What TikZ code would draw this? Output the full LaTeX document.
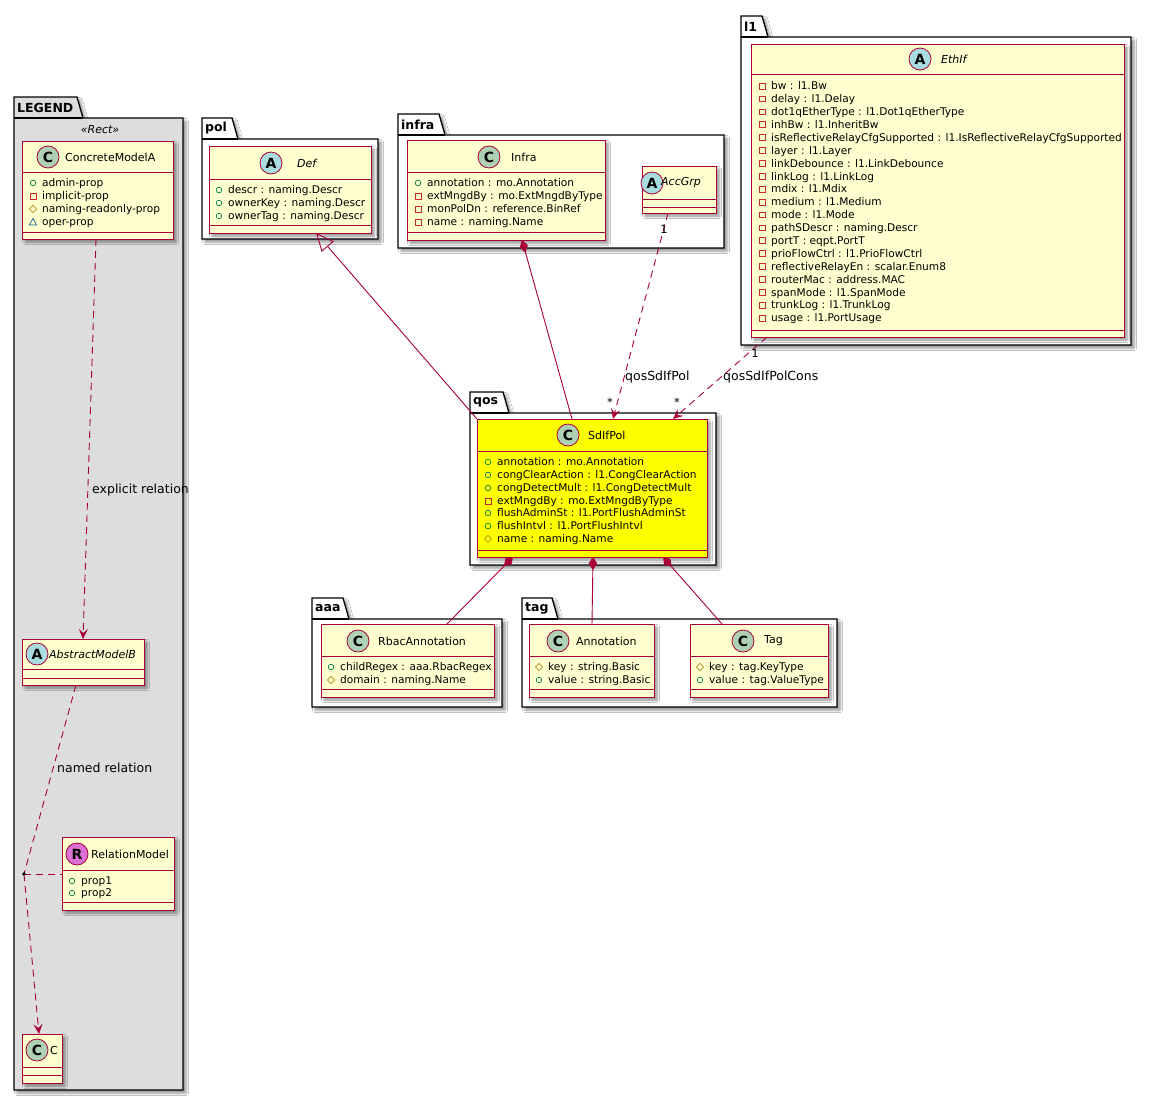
\documentclass[tikz,border=0pt]{standalone}
\usepackage{fontspec}
\setmainfont{DejaVu Sans}
\usetikzlibrary{arrows.meta,fit,shadows.blur,calc}

\definecolor{clsborder}{HTML}{A80036}
\definecolor{clsfill}{HTML}{FEFECE}
\definecolor{hilite}{HTML}{FFFF00}
\definecolor{legendbg}{HTML}{DDDDDD}
\definecolor{circC}{HTML}{ADD1B2}
\definecolor{circA}{HTML}{A9DCDF}
\definecolor{circR}{HTML}{DA70D6}
\definecolor{pubc}{HTML}{038048}
\definecolor{privc}{HTML}{C82930}
\definecolor{protc}{HTML}{B38D22}
\definecolor{pkgc}{HTML}{1963A0}

\tikzset{
 shadowed/.style={blur shadow={shadow xshift=3pt, shadow yshift=-3pt, shadow blur radius=2.5pt, shadow opacity=45}},
 classbox/.style={draw=clsborder, line width=1pt, inner sep=0pt, outer sep=0pt, shadowed},
 cline/.style={draw=clsborder, line width=1pt},
 hcircle/.style={circle, draw=clsborder, line width=0.8pt, minimum size=22pt, inner sep=0pt, font=\fontsize{14}{14}\selectfont\bfseries},
 cname/.style={anchor=west, inner sep=0pt, font=\fontsize{11}{13}\selectfont},
 aname/.style={anchor=west, inner sep=0pt, font=\fontsize{11}{13}\selectfont\itshape},
 attrtext/.style={anchor=base west, inner sep=0pt, font=\fontsize{10.6}{12}\selectfont},
 pkgshape/.style={draw=black, line width=1.3pt, shadowed},
 pkgname/.style={anchor=west, inner sep=0pt, font=\fontsize{12.5}{14}\selectfont\bfseries},
 lbl/.style={inner sep=0pt, font=\fontsize{12.5}{14}\selectfont},
 mult/.style={inner sep=0pt, font=\fontsize{11.5}{13}\selectfont},
 relline/.style={draw=clsborder, line width=0.9pt},
 dashline/.style={relline, dash pattern=on 7pt off 5pt},
 dep/.style={dashline, -{Stealth[length=10pt,width=9pt,inset=4pt]}},
 comp/.style={relline, {Diamond[length=13pt,width=8.5pt]}-},
 inh/.style={relline, -{Triangle[open,length=18pt,width=16pt]}},
}

\newcounter{attrc}
\newcommand\visP[2]{\draw[draw=pubc, line width=0.7pt] (#1,#2) circle (2.8);}
\newcommand\visM[2]{\draw[draw=privc, line width=0.7pt] (#1-2.9,#2-2.9) rectangle (#1+2.9,#2+2.9);}
\newcommand\visH[2]{\draw[draw=protc, line width=0.7pt] (#1,#2-3.7) -- (#1+3.7,#2) -- (#1,#2+3.7) -- (#1-3.7,#2) -- cycle;}
\newcommand\visT[2]{\draw[draw=pkgc, line width=0.7pt] (#1-3.7,#2+3) -- (#1+3.7,#2+3) -- (#1,#2-3.5) -- cycle;}
\newcommand\umlattr[4]{\stepcounter{attrc}\csname vis#3\endcsname{#1}{#2}\node[attrtext] (attr\arabic{attrc}) at (#1+9,#2+3.8) {#4};}

\newcommand\umlpkg[9]{%
  \path[pkgshape, fill=#9] (#2,#3) -- (#4-6,#3) -- (#4,#5) -- (#6,#5) -- (#6,#7) -- (#2,#7) -- cycle;
  \draw[black, line width=1.3pt] (#2,#5) -- (#4,#5);
  \node[pkgname] (#1) at (#2+3,{(#3+#5)/2}) {#8};
}
\newcommand\umlclass[8]{%
  \node[classbox, fill=#8, fit={(#2,#3) (#4,#5)}] (#1) {};
  \draw[cline] (#2,#6) -- (#4,#6);
  \draw[cline] (#2,#7) -- (#4,#7);
}

\begin{document}
\begin{tikzpicture}[x=1pt,y=-1pt]
\fill[white] (0,0) rectangle (1153,1101);
\useasboundingbox (0,0) rectangle (1153,1101);

% ---------- packages ----------
\umlpkg{pkglegend}{14}{97}{83}{118}{183}{1090}{LEGEND}{legendbg}
\umlpkg{pkgpol}{202}{118}{238}{139}{378}{239}{pol}{white}
\umlpkg{pkginfra}{398}{114}{445}{135}{724}{248}{infra}{white}
\umlpkg{pkgl1}{741}{16}{768}{37}{1131}{345}{l1}{white}
\umlpkg{pkgqos}{470}{392}{509}{413}{716}{565}{qos}{white}
\umlpkg{pkgaaa}{312}{598}{349}{619}{502}{707}{aaa}{white}
\umlpkg{pkgtag}{522}{598}{558}{619}{837}{707}{tag}{white}

\node[inner sep=0pt, font=\fontsize{11}{13}\selectfont\itshape] (stereo) at (100,130) {«Rect»};

% ---------- LEGEND classes ----------
\umlclass{cma}{22}{141}{173}{239}{172}{232}{clsfill}
\node[hcircle, fill=circC] (cmaicon) at (48,157) {C};
\node[cname] (cmaname) at (65,157) {ConcreteModelA};
\umlattr{33}{183}{P}{admin-prop}
\umlattr{33}{196}{M}{implicit-prop}
\umlattr{33}{209}{H}{naming-readonly-prop}
\umlattr{33}{222}{T}{oper-prop}

\umlclass{amb}{22}{639}{144}{685}{669}{678}{clsfill}
\node[hcircle, fill=circA] (ambicon) at (37,654) {A};
\node[aname] (ambname) at (49,654) {AbstractModelB};

\umlclass{relm}{62}{837}{174}{910}{870}{902}{clsfill}
\node[hcircle, fill=circR] (relmicon) at (77,854) {R};
\node[cname] (relmname) at (91,854) {RelationModel};
\umlattr{72}{881}{P}{prop1}
\umlattr{72}{893}{P}{prop2}

\umlclass{cc}{22}{1034}{62}{1083}{1067}{1075}{clsfill}
\node[hcircle, fill=circC] (ccicon) at (37,1050) {C};
\node[cname] (ccname) at (50,1050) {C};

% ---------- pol ----------
\umlclass{def}{209}{146}{371}{233}{179}{225}{clsfill}
\node[hcircle, fill=circA] (deficon) at (271,163) {A};
\node[aname] (defname) at (297,163) {Def};
\umlattr{219}{190}{P}{descr : naming.Descr}
\umlattr{219}{203}{P}{ownerKey : naming.Descr}
\umlattr{219}{216}{P}{ownerTag : naming.Descr}

% ---------- infra ----------
\umlclass{infra}{407}{140}{605}{240}{172}{232}{clsfill}
\node[hcircle, fill=circC] (infraicon) at (489,157) {C};
\node[cname] (infraname) at (511,157) {Infra};
\umlattr{418}{183}{P}{annotation : mo.Annotation}
\umlattr{418}{196}{M}{extMngdBy : mo.ExtMngdByType}
\umlattr{418}{209}{M}{monPolDn : reference.BinRef}
\umlattr{418}{222}{M}{name : naming.Name}

\umlclass{accgrp}{642}{166}{716}{213}{199}{207}{clsfill}
\node[hcircle, fill=circA] (accgrpicon) at (652,183) {A};
\node[aname] (accgrpname) at (661,183) {AccGrp};

% ---------- l1 ----------
\umlclass{ethif}{751}{44}{1124}{337}{74}{330}{clsfill}
\node[hcircle, fill=circA] (ethificon) at (920,59) {A};
\node[aname] (ethifname) at (941,59) {EthIf};
\foreach \t [count=\i from 0] in {bw : l1.Bw, delay : l1.Delay, dot1qEtherType : l1.Dot1qEtherType, inhBw : l1.InheritBw, isReflectiveRelayCfgSupported : l1.IsReflectiveRelayCfgSupported, layer : l1.Layer, linkDebounce : l1.LinkDebounce, linkLog : l1.LinkLog, mdix : l1.Mdix, medium : l1.Medium, mode : l1.Mode, pathSDescr : naming.Descr, portT : eqpt.PortT, prioFlowCtrl : l1.PrioFlowCtrl, reflectiveRelayEn : scalar.Enum8, routerMac : address.MAC, spanMode : l1.SpanMode, trunkLog : l1.TrunkLog, usage : l1.PortUsage}
  {\umlattr{762}{86+12.89*\i}{M}{\t}}

% ---------- qos ----------
\umlclass{sdif}{477}{419}{707}{557}{451}{550}{hilite}
\node[hcircle, fill=circC] (sdificon) at (568,435) {C};
\node[cname] (sdifname) at (588,435) {SdIfPol};
\umlattr{488}{462}{P}{annotation : mo.Annotation}
\umlattr{488}{475}{P}{congClearAction : l1.CongClearAction}
\umlattr{488}{488}{P}{congDetectMult : l1.CongDetectMult}
\umlattr{488}{501}{M}{extMngdBy : mo.ExtMngdByType}
\umlattr{488}{513}{P}{flushAdminSt : l1.PortFlushAdminSt}
\umlattr{488}{526}{P}{flushIntvl : l1.PortFlushIntvl}
\umlattr{488}{539}{H}{name : naming.Name}

% ---------- aaa ----------
\umlclass{rbac}{321}{624}{494}{697}{656}{689}{clsfill}
\node[hcircle, fill=circC] (rbacicon) at (358,641) {C};
\node[cname] (rbacname) at (378,641) {RbacAnnotation};
\umlattr{331}{667}{P}{childRegex : aaa.RbacRegex}
\umlattr{331}{680}{H}{domain : naming.Name}

% ---------- tag ----------
\umlclass{annot}{529}{624}{654}{697}{656}{689}{clsfill}
\node[hcircle, fill=circC] (annoticon) at (558,641) {C};
\node[cname] (annotname) at (576,641) {Annotation};
\umlattr{539}{667}{H}{key : string.Basic}
\umlattr{539}{680}{P}{value : string.Basic}

\umlclass{tagc}{690}{624}{828}{697}{656}{689}{clsfill}
\node[hcircle, fill=circC] (tagicon) at (743,641) {C};
\node[cname] (tagname) at (764,641) {Tag};
\umlattr{700}{667}{H}{key : tag.KeyType}
\umlattr{700}{680}{P}{value : tag.ValueType}

% ---------- connectors ----------
\draw[dep] ([xshift=74pt]cma.south west) -- ([xshift=61pt]amb.north west);
\node[lbl, anchor=west] (lblexp) at (92,490) {explicit relation};

\coordinate (rdot) at (24,874);
\draw[dashline] ([xshift=54pt]amb.south west) -- (rdot);
\draw[dep] (rdot) -- ([xshift=17pt]cc.north west);
\draw[dashline] (rdot) -- (rdot -| relm.west);
\fill[black] (rdot) circle (1.8);
\node[lbl, anchor=west] (lblnamed) at (57,768) {named relation};

\draw[inh] (sdif.north west) -- ([xshift=107pt]def.south west);
\draw[comp] ([xshift=115pt]infra.south west) -- ([xshift=95pt]sdif.north west);

\draw[dep] ([xshift=26pt]accgrp.south west) -- ([xshift=136pt]sdif.north west);
\node[mult] (m1) at (664,229) {1};
\node[mult] (m2) at (610,402) {*};
\node[lbl, anchor=west] (lblqos) at (625,377) {qosSdIfPol};

\draw[dep] ([xshift=16pt]ethif.south west) -- ([xshift=196pt]sdif.north west);
\node[mult] (m3) at (755,353) {1};
\node[mult] (m4) at (677,402) {*};
\node[lbl, anchor=west] (lblcons) at (723,377) {qosSdIfPolCons};

\draw[comp] ([xshift=36pt]sdif.south west) -- ([xshift=126pt]rbac.north west);
\draw[comp] ([xshift=116pt]sdif.south west) -- ([xshift=63pt]annot.north west);
\draw[comp] ([xshift=186pt]sdif.south west) -- ([xshift=32pt]tagc.north west);
\end{tikzpicture}
\end{document}
